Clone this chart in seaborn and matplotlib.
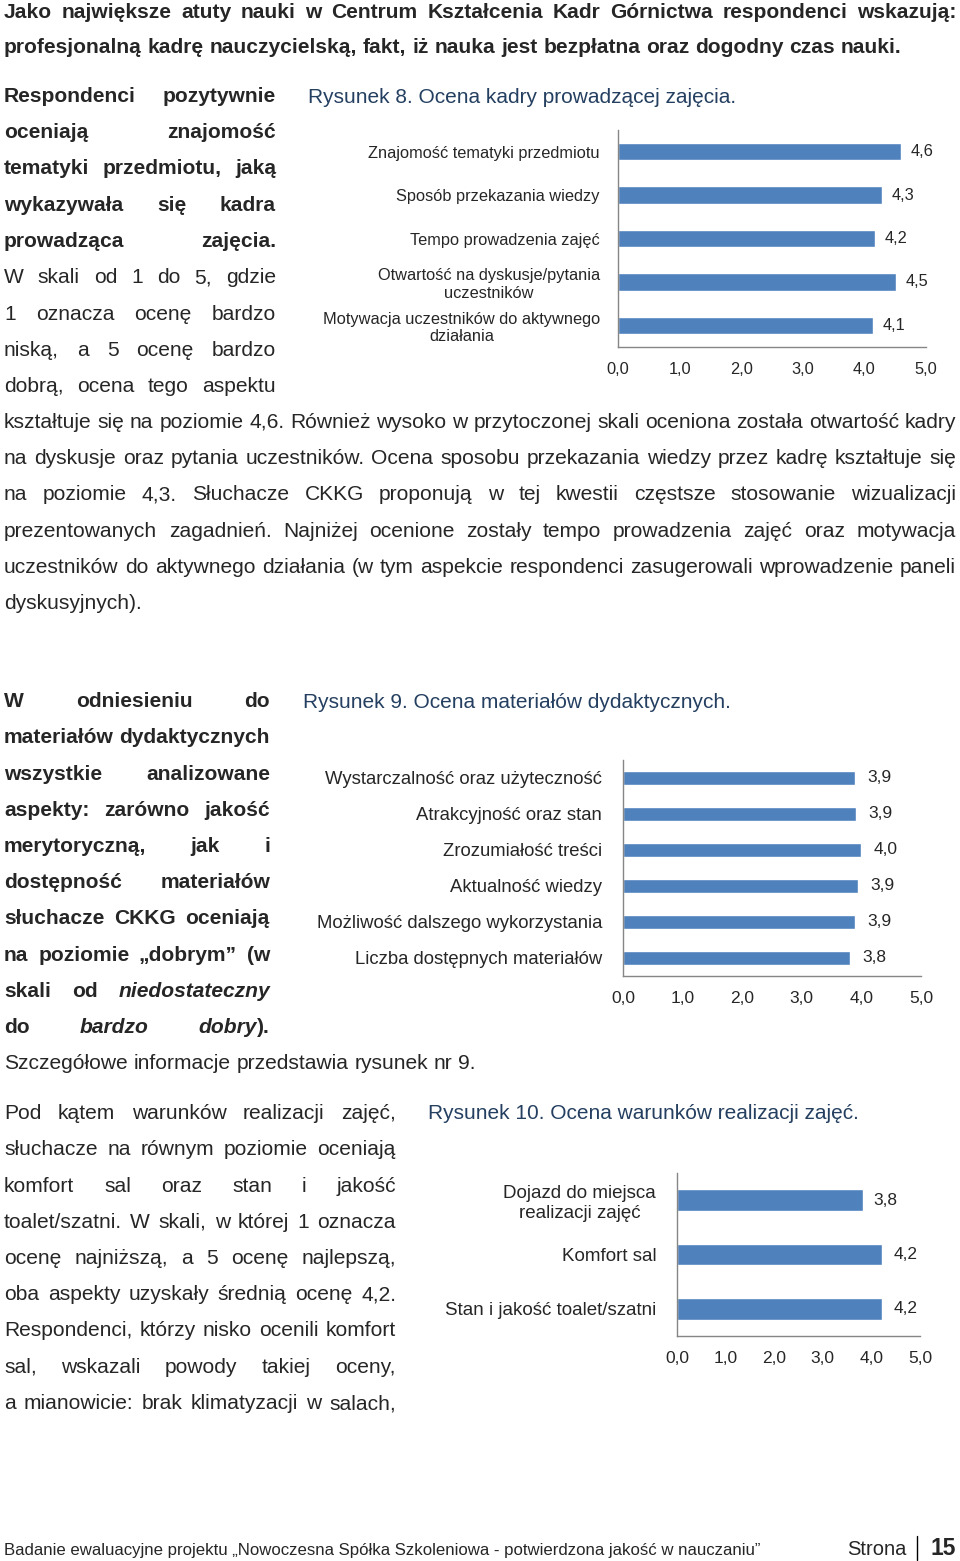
import matplotlib
matplotlib.use("Agg")
import matplotlib.pyplot as plt
from matplotlib.transforms import Affine2D
import seaborn as sns

# ---- chart data ----
kadra_labels = [
    "Znajomość tematyki przedmiotu",
    "Sposób przekazania wiedzy",
    "Tempo prowadzenia zajęć",
    "Otwartość na dyskusje/pytania\nuczestników",
    "Motywacja uczestników do aktywnego\ndziałania",
]
kadra_values = [4.59, 4.29, 4.17, 4.51, 4.14]

materialy_labels = [
    "Wystarczalność oraz użyteczność",
    "Atrakcyjność oraz stan",
    "Zrozumiałość treści",
    "Aktualność wiedzy",
    "Możliwość dalszego wykorzystania",
    "Liczba dostępnych materiałów",
]
materialy_values = [3.89, 3.91, 4.0, 3.94, 3.89, 3.81]

warunki_labels = [
    "Dojazd do miejsca\nrealizacji zajęć",
    "Komfort sal",
    "Stan i jakość toalet/szatni",
]
warunki_values = [3.82, 4.22, 4.22]

scale_ticks = [0, 1, 2, 3, 4, 5]
scale_tick_labels = ["0,0", "1,0", "2,0", "3,0", "4,0", "5,0"]

BAR = "#4F81BD"
AXIS = "#868686"
CAPTION = "#243F60"

W, H = 960, 1561
sns.set_theme(style="white")
plt.rcParams["font.family"] = ["Liberation Sans", "DejaVu Sans"]

fig = plt.figure(figsize=(W / 100, H / 100), dpi=100)
fig.patch.set_facecolor("white")
renderer = fig.canvas.get_renderer()
# pixel coordinates measured from the top-left corner
px = Affine2D().scale(1, -1).translate(0, H)

BODY = 15.1


def put_text(x, y, s, **kw):
    kw.setdefault("fontsize", BODY)
    kw.setdefault("va", "baseline")
    return fig.text(x, y, s, transform=px, **kw)


def width_of(t):
    return t.get_window_extent(renderer).width


def line(text, x0, x1, y, justify=True, weight="normal", size=BODY):
    """Draw one line of a paragraph; *word* marks italic, justified if asked."""
    words = text.split()
    groups = []
    for w in words:
        objs = []
        for k, p in enumerate(w.split("*")):
            if p:
                objs.append(put_text(0, y, p, fontsize=size, weight=weight,
                                     style="italic" if k % 2 else "normal"))
        groups.append(objs)
    wid = [sum(width_of(o) for o in g) for g in groups]
    if justify and len(groups) > 1:
        gap = (x1 - x0 - sum(wid)) / (len(groups) - 1)
    else:
        a = put_text(0, y, "a a", fontsize=size, weight=weight)
        b = put_text(0, y, "aa", fontsize=size, weight=weight)
        gap = width_of(a) - width_of(b)
        a.remove()
        b.remove()
    x = x0
    for g, w in zip(groups, wid):
        cx = x
        for o in g:
            o.set_position((cx, y))
            cx += width_of(o)
        x += w + gap


def paragraph(lines, x0, x1, y0, step=36.25):
    for i, (txt, just, wt) in enumerate(lines):
        line(txt, x0, x1, y0 + i * step, justify=just, weight=wt)


# ---- body text ----
line("Jako największe atuty nauki w Centrum Kształcenia Kadr Górnictwa respondenci wskazują:",
     4, 956, 18, weight="bold")
line("profesjonalną kadrę nauczycielską, fakt, iż nauka jest bezpłatna oraz dogodny czas nauki.",
     4, 956, 53, justify=False, weight="bold")

paragraph([
    ("Respondenci pozytywnie", True, "bold"),
    ("oceniają znajomość", True, "bold"),
    ("tematyki przedmiotu, jaką", True, "bold"),
    ("wykazywała się kadra", True, "bold"),
    ("prowadząca zajęcia.", True, "bold"),
    ("W skali od 1 do 5, gdzie", True, "normal"),
    ("1 oznacza ocenę bardzo", True, "normal"),
    ("niską, a 5 ocenę bardzo", True, "normal"),
    ("dobrą, ocena tego aspektu", True, "normal"),
], 4, 276, 102)

paragraph([
    ("kształtuje się na poziomie 4,6. Również wysoko w przytoczonej skali oceniona została otwartość kadry", True, "normal"),
    ("na dyskusje oraz pytania uczestników. Ocena sposobu przekazania wiedzy przez kadrę kształtuje się", True, "normal"),
    ("na poziomie 4,3. Słuchacze CKKG proponują w tej kwestii częstsze stosowanie wizualizacji", True, "normal"),
    ("prezentowanych zagadnień. Najniżej ocenione zostały tempo prowadzenia zajęć oraz motywacja", True, "normal"),
    ("uczestników do aktywnego działania (w tym aspekcie respondenci zasugerowali wprowadzenie paneli", True, "normal"),
    ("dyskusyjnych).", False, "normal"),
], 4, 956, 428)

paragraph([
    ("W odniesieniu do", True, "bold"),
    ("materiałów dydaktycznych", True, "bold"),
    ("wszystkie analizowane", True, "bold"),
    ("aspekty: zarówno jakość", True, "bold"),
    ("merytoryczną, jak i", True, "bold"),
    ("dostępność materiałów", True, "bold"),
    ("słuchacze CKKG oceniają", True, "bold"),
    ("na poziomie „dobrym” (w", True, "bold"),
    ("skali od *niedostateczny*", True, "bold"),
    ("do *bardzo* *dobry*).", True, "bold"),
], 4, 270, 707)
line("Szczegółowe informacje przedstawia rysunek nr 9.", 4, 956, 1069, justify=False)

paragraph([
    ("Pod kątem warunków realizacji zajęć,", True, "normal"),
    ("słuchacze na równym poziomie oceniają", True, "normal"),
    ("komfort sal oraz stan i jakość", True, "normal"),
    ("toalet/szatni. W skali, w której 1 oznacza", True, "normal"),
    ("ocenę najniższą, a 5 ocenę najlepszą,", True, "normal"),
    ("oba aspekty uzyskały średnią ocenę 4,2.", True, "normal"),
    ("Respondenci, którzy nisko ocenili komfort", True, "normal"),
    ("sal, wskazali powody takiej oceny,", True, "normal"),
    ("a mianowicie: brak klimatyzacji w salach,", True, "normal"),
], 4, 396, 1119)

# ---- footer ----
put_text(4, 1555, "Badanie ewaluacyjne projektu „Nowoczesna Spółka Szkoleniowa - potwierdzona jakość w nauczaniu”",
         fontsize=12.1)
put_text(847, 1555, "Strona", fontsize=14.5)
fig.add_artist(plt.Line2D([917, 917], [1536, 1560], transform=px, color="black", lw=1))
put_text(930, 1555, "15", fontsize=16.5, weight="bold")

# ---- captions ----
put_text(308, 103, "Rysunek 8. Ocena kadry prowadzącej zajęcia.", fontsize=15, color=CAPTION)
put_text(303, 708, "Rysunek 9. Ocena materiałów dydaktycznych.", fontsize=15, color=CAPTION)
put_text(428, 1119, "Rysunek 10. Ocena warunków realizacji zajęć.", fontsize=15, color=CAPTION)


def bar_chart(box, labels, values, label_size, tick_size, pad_val, pad_lab):
    left, top, right, bottom = box
    ax = fig.add_axes([left / W, 1 - bottom / H, (right - left) / W, (bottom - top) / H])
    sns.barplot(x=values, y=labels, orient="h", color=BAR, saturation=1,
                width=0.4, ax=ax)
    ax.set_xlim(0, 5)
    ax.set_xticks(scale_ticks, scale_tick_labels)
    ax.set_xlabel("")
    ax.set_ylabel("")
    ax.tick_params(axis="both", length=0)
    ax.tick_params(axis="x", labelsize=tick_size, pad=11)
    ax.tick_params(axis="y", labelsize=label_size, pad=pad_lab)
    for lbl in ax.get_yticklabels():
        lbl.set_multialignment("center")
    for side in ["top", "right"]:
        ax.spines[side].set_visible(False)
    for side in ["left", "bottom"]:
        ax.spines[side].set_color(AXIS)
        ax.spines[side].set_linewidth(1)
    ax.bar_label(ax.containers[0],
                 labels=[f"{v:.1f}".replace(".", ",") for v in values],
                 padding=pad_val, fontsize=tick_size)
    ax.set_facecolor("white")
    return ax


bar_chart((618, 130, 926, 347), kadra_labels, kadra_values, 11.8, 11.8, 7, 13)
bar_chart((623, 760, 921, 976), materialy_labels, materialy_values, 13.3, 12.5, 9, 15)
bar_chart((677, 1173, 920, 1336), warunki_labels, warunki_values, 13.5, 12.5, 8, 15)

fig.savefig("out.png", dpi=100, facecolor="white")
